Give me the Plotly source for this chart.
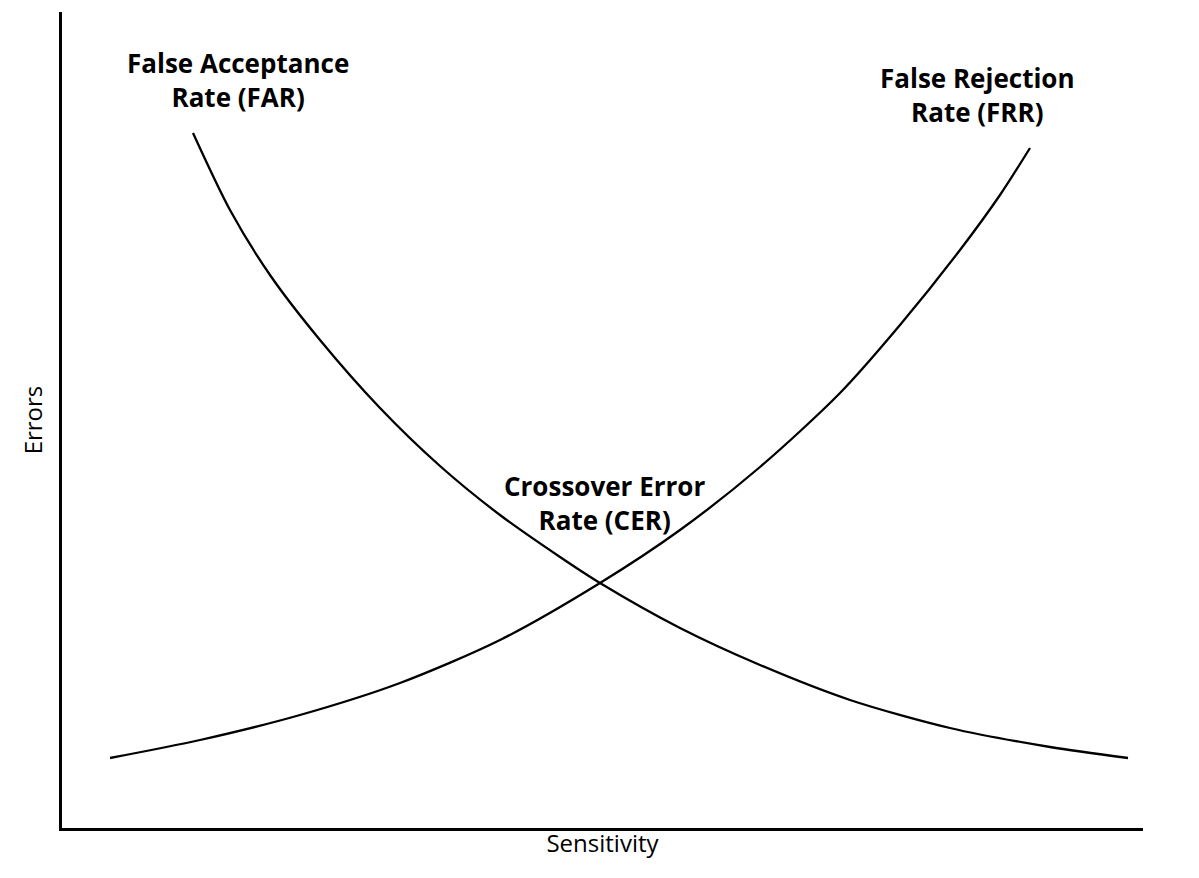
import plotly.graph_objects as go

# curve points (x = sensitivity, y = errors)
far_x = [193, 230, 270, 320, 380, 440, 500, 560, 600, 680, 760, 850, 950, 1050, 1128]
far_y = [695, 618, 553, 488, 420, 362, 313, 271, 245, 200, 163, 128, 100, 81, 70]
frr_x = [110, 200, 300, 400, 500, 600, 680, 760, 840, 900, 960, 1000, 1030]
frr_y = [70, 88, 113, 145, 188, 245, 298, 361, 435, 503, 578, 633, 680]

fig = go.Figure()
for xs, ys in [(far_x, far_y), (frr_x, frr_y)]:
    fig.add_trace(go.Scatter(x=xs, y=ys, mode="lines",
                             line=dict(color="black", width=2.3, shape="spline", smoothing=0.8),
                             showlegend=False, hoverinfo="skip"))

font = dict(family="Open Sans", size=26, color="black")
labels = [
    (238, 748, "<b>False Acceptance<br>Rate (FAR)</b>"),
    (977, 733, "<b>False Rejection<br>Rate (FRR)</b>"),
    (604, 325, "<b>Crossover Error<br>Rate (CER)</b>"),
]
for x, y, t in labels:
    fig.add_annotation(x=x, y=y, text=t, showarrow=False, font=font, align="center")

title_font = dict(family="Open Sans", size=24, color="black")
fig.update_layout(
    width=1199, height=878, plot_bgcolor="white", paper_bgcolor="white",
    margin=dict(l=54, r=64, t=4, b=58),
    xaxis=dict(range=[62, 1143], showline=True, linecolor="black", linewidth=2.5,
               showgrid=False, zeroline=False, showticklabels=False, ticks="",
               title=dict(text="Sensitivity", font=title_font, standoff=6)),
    yaxis=dict(range=[0, 816], showline=True, linecolor="black", linewidth=2.5,
               showgrid=False, zeroline=False, showticklabels=False, ticks="",
               title=dict(text="Errors", font=title_font, standoff=10)),
)
fig.write_html("out.html")
